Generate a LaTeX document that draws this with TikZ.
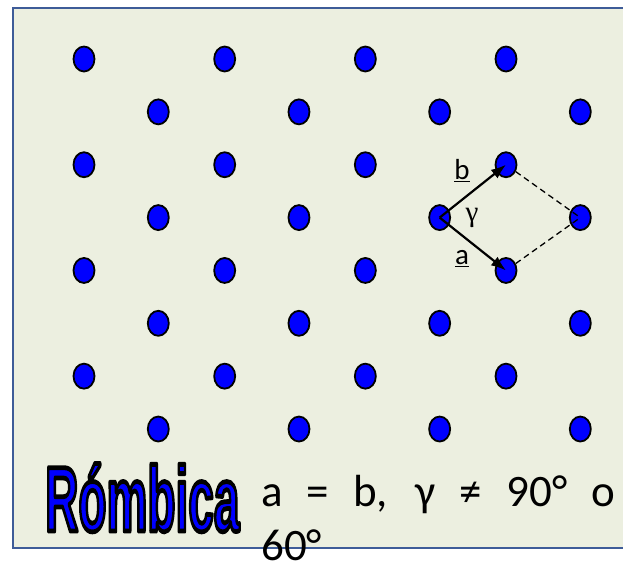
\documentclass[tikz,border=0pt]{standalone}
\usepackage{fontspec}
\setmainfont{Carlito}
\newfontfamily\titlefont{Liberation Sans}
\newfontfamily\greekfont{Liberation Serif}
\usetikzlibrary{arrows.meta,shapes.geometric}
\definecolor{bgfill}{RGB}{236,239,224}
\definecolor{framec}{RGB}{62,92,152}
\definecolor{dotblue}{RGB}{0,0,255}
\newcommand\outlinedtext[1]{\special{pdf:literal direct 2 Tr 4.8 w 1 j 0 0 0 RG}#1\special{pdf:literal direct 0 Tr}}
\begin{document}
\begin{tikzpicture}[x=1pt,y=-1pt,
  dot/.style={ellipse,draw=black,line width=1.8pt,fill=dotblue,minimum width=21pt,minimum height=25pt,inner sep=0pt},
  vec/.style={line width=2.2pt,-{Latex[length=15pt,width=11pt]}},
  dashline/.style={line width=1.3pt,dash pattern=on 6pt off 4pt},
  lab/.style={font=\fontsize{29}{32}\selectfont,inner sep=0pt},
  maintext/.style={font=\fontsize{45}{54}\selectfont,inner sep=0pt,anchor=base west}]
\useasboundingbox (0,0) rectangle (623,566);
\fill[white] (0,0) rectangle (623,566);
\begin{scope}
\clip (0,0) rectangle (623,566);
\draw[framec,line width=2pt,fill=bgfill] (13,8) rectangle (640,548);
\end{scope}
\foreach \r in {0,...,7}{
  \foreach \c in {0,...,3}{
    \pgfmathsetmacro\xx{ifthenelse(mod(\r,2)==0,84,158.3)+\c*140.67}
    \pgfmathsetmacro\yy{59+\r*52.86}
    \node[dot] (d\r\c) at (\xx,\yy) {};
  }
}
\draw[dashline] (d23) -- (d33.center);
\draw[dashline] (d43) -- (d33.center);
\draw[vec] (d32.center) -- (d23.center);
\draw[vec] (d32.center) -- (d43.center);
\node[lab] (lb) at (462,171) {\underline{b}};
\node[lab] (lg) at (472,218) {\greekfont γ};
\node[lab] (la) at (462,259) {\underline{a}};
\node[inner sep=0pt,anchor=base west] (title) at (45,531)
  {\scalebox{0.5}[1]{\fontsize{92}{92}\selectfont\titlefont\bfseries\color{dotblue}\outlinedtext{Rómbica}}};
\node[maintext] (cond) at (261,506) {\makebox[354pt][s]{a = b, γ ≠ 90° o}};
\node[maintext] (cond2) at (261,560) {60°};
\end{tikzpicture}
\end{document}
